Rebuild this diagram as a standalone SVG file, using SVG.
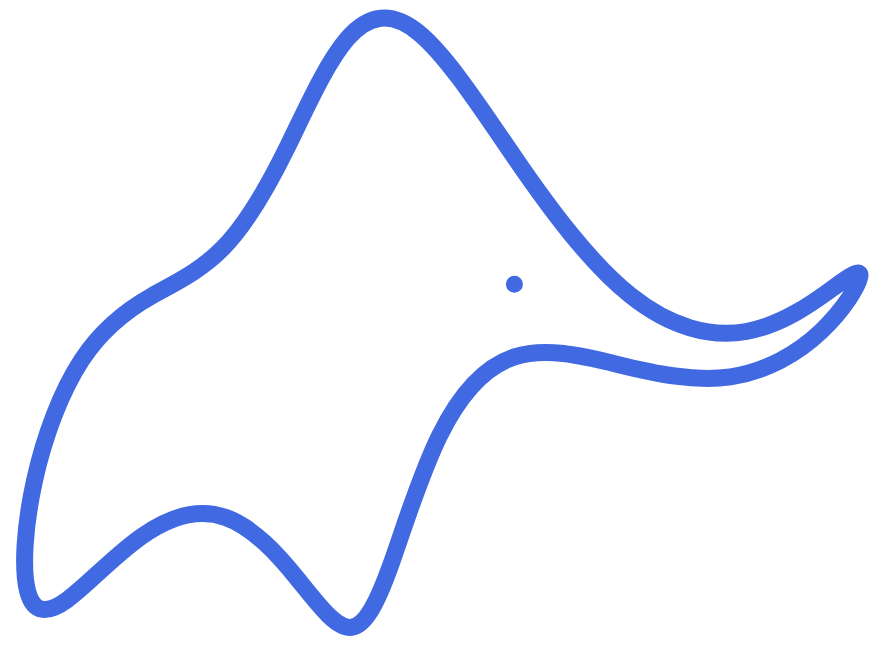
<svg xmlns="http://www.w3.org/2000/svg" width="892" height="665" viewBox="0 0 892 665">
<style>
.body{fill:none;stroke:#4169E1;stroke-width:17;stroke-linejoin:round;stroke-linecap:round}
.eye{fill:#4169E1}
</style>
<rect width="892" height="665" fill="#ffffff"/>
<g id="elephant">
<path class="body" d="M81.8,359.9 C61.0,391.6 44.1,436.7 34.3,481.6 C24.5,526.5 21.9,568.9 27.6,591.1 C33.3,613.3 47.2,614.4 67.2,599.8 C87.2,585.2 113.2,556.7 141.0,536.9 C168.8,517.1 198.2,508.0 225.4,517.4 C252.6,526.8 277.3,553.8 298.1,579.6 C318.9,605.4 335.6,627.6 350.1,627.4 C364.6,627.2 376.8,603.9 390.5,565.7 C404.2,527.5 419.5,476.4 439.5,435.7 C459.5,395.0 484.3,366.6 514.5,356.9 C544.7,347.2 580.1,355.2 617.7,364.4 C655.3,373.6 694.7,382.0 730.6,376.8 C766.5,371.6 798.4,353.0 821.3,331.1 C844.2,309.2 857.8,286.3 859.7,277.3 C861.6,268.3 851.7,274.4 831.7,289.0 C811.7,303.6 781.7,325.0 746.3,331.5 C710.9,338.0 670.4,327.5 630.2,295.2 C590.0,262.9 550.2,209.4 514.3,157.0 C478.4,104.6 446.6,55.9 419.1,33.1 C391.6,10.3 368.2,14.2 347.0,39.1 C325.8,64.0 306.5,108.1 286.5,148.8 C266.5,189.5 245.6,225.0 223.0,248.0 C200.4,271.0 176.0,282.3 151.5,296.1 C127.0,309.9 102.6,328.2 81.8,359.9 Z"/>
<circle id="eye" class="eye" cx="514.4" cy="284.3" r="8.5"/>
</g>
</svg>
